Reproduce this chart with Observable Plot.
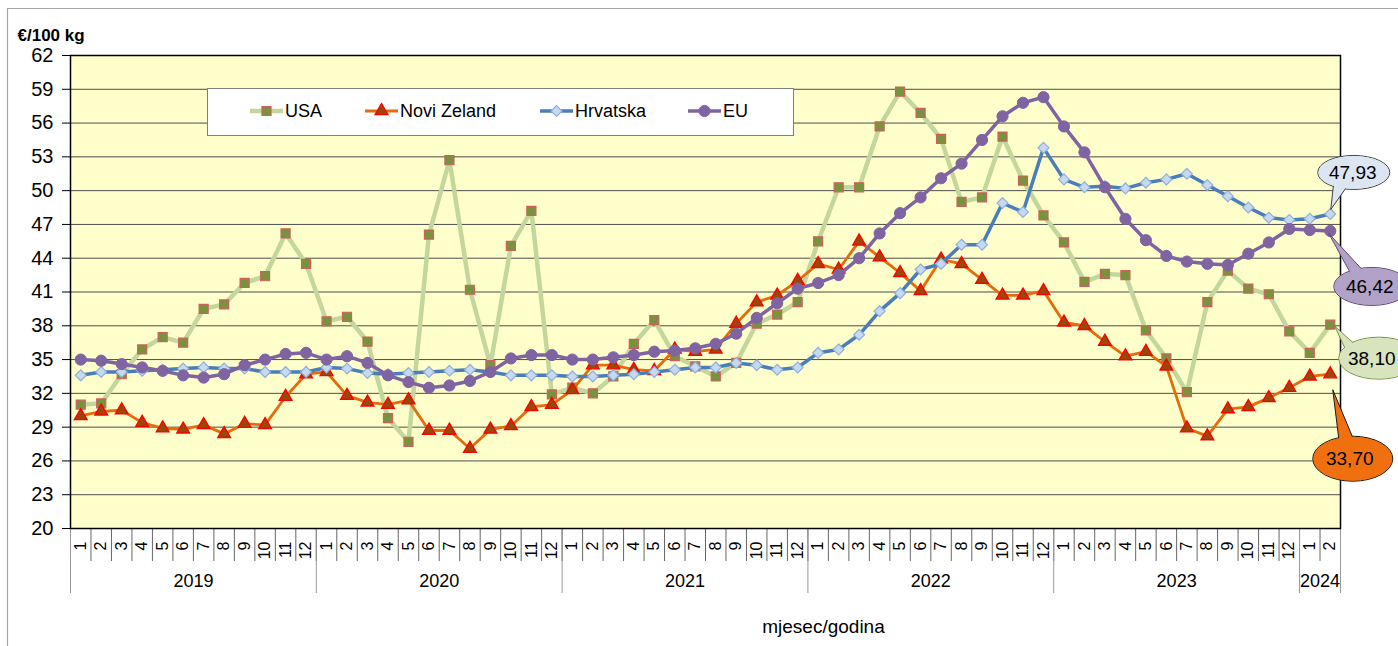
<!DOCTYPE html>
<html>
<head>
<meta charset="utf-8">
<script src="https://cdn.jsdelivr.net/npm/d3@7"></script>
<script src="https://cdn.jsdelivr.net/npm/@observablehq/plot@0.6"></script>
<style>
  html, body { margin: 0; padding: 0; background: #fff; }
  #chart svg { display: block; }
</style>
</head>
<body>
<div id="chart"></div>
<script>
// ---------- data ----------
const years = ["2019", "2020", "2021", "2022", "2023", "2024"];
const monthsPerYear = [12, 12, 12, 12, 12, 2];
const monthLabels = ["1","2","3","4","5","6","7","8","9","10","11","12"];
const yTicks = [20, 23, 26, 29, 32, 35, 38, 41, 44, 47, 50, 53, 56, 59, 62];

const seriesNames = ["USA", "Novi Zeland", "Hrvatska", "EU"];

const usa = [31.0,31.1,33.7,35.9,37.0,36.5,39.5,39.9,41.8,42.4,46.2,43.5,
  38.4,38.8,36.6,29.8,27.7,46.1,52.7,41.2,34.5,45.1,48.2,31.9,
  32.5,32.0,33.5,36.4,38.5,35.3,34.4,33.5,34.7,38.2,39.0,40.1,
  45.5,50.3,50.3,55.7,58.8,56.9,54.6,49.0,49.4,54.8,50.9,47.8,
  45.4,41.9,42.6,42.5,37.6,35.1,32.1,40.1,42.9,41.3,40.8,37.5,
  35.6,38.10];
const noviZeland = [30.0,30.4,30.5,29.4,28.9,28.8,29.2,28.4,29.3,29.2,31.7,33.7,
  33.9,31.8,31.2,31.0,31.4,28.7,28.7,27.1,28.8,29.1,30.8,31.0,
  32.3,34.5,34.5,34.1,34.0,35.9,35.7,35.9,38.2,40.1,40.7,42.0,
  43.5,43.0,45.5,44.1,42.7,41.1,43.9,43.5,42.1,40.7,40.7,41.1,
  38.3,38.0,36.6,35.3,35.7,34.4,28.9,28.2,30.6,30.8,31.6,32.5,
  33.5,33.70];
const hrvatska = [33.6,33.9,33.9,34.0,34.1,34.2,34.3,34.2,34.2,33.9,33.9,33.9,
  34.3,34.2,33.8,33.7,33.8,33.9,34.0,34.1,33.9,33.6,33.6,33.6,
  33.5,33.5,33.6,33.7,33.9,34.1,34.3,34.3,34.7,34.5,34.1,34.3,
  35.6,35.9,37.2,39.3,40.9,43.0,43.5,45.2,45.2,48.9,48.1,53.8,
  51.0,50.3,50.4,50.2,50.7,51.0,51.5,50.5,49.5,48.5,47.6,47.4,
  47.5,47.93];
const eu = [35.0,34.9,34.6,34.3,34.0,33.6,33.4,33.7,34.5,35.0,35.5,35.6,
  35.0,35.3,34.7,33.6,33.0,32.5,32.7,33.1,33.9,35.1,35.4,35.4,
  35.0,35.0,35.2,35.4,35.7,35.8,36.0,36.4,37.3,38.7,40.0,41.3,
  41.8,42.5,44.0,46.2,48.0,49.4,51.1,52.4,54.5,56.6,57.8,58.3,
  55.7,53.4,50.3,47.5,45.6,44.2,43.7,43.5,43.4,44.4,45.4,46.6,
  46.5,46.42];

// ---------- derived tables ----------
const periods = [];
const yearRows = [];
years.forEach((yr, k) => {
  const start = periods.length;
  for (let m = 0; m < monthsPerYear[k]; m++) periods.push({i: periods.length, month: monthLabels[m], year: yr});
  yearRows.push({year: yr, start: start - 0.5, end: periods.length - 0.5, center: (start + periods.length - 1) / 2});
});
const rows = periods.map((p, i) => ({...p, usa: usa[i], nz: noviZeland[i], hr: hrvatska[i], eu: eu[i]}));
const monthBounds = d3.range(periods.length + 1).map(i => i - 0.5);
const yearBounds = [yearRows[0].start, ...yearRows.map(d => d.end)];

// ---------- styles ----------
const diamondSym = {draw(ctx, size) { const r = Math.sqrt(size) * 0.62625; ctx.moveTo(0, -r); ctx.lineTo(r, 0); ctx.lineTo(0, r); ctx.lineTo(-r, 0); ctx.closePath(); }};
const styles = {
  usa: {line: "#C3D69B", lw: 4.5, symbol: "square", r: 5.1, fill: "#77933C", stroke: "#D0605D", sw: 1.2, d3sym: d3.symbolSquare},
  nz:  {line: "#E46C0A", lw: 2.8, symbol: "triangle", r: 4.7, fill: "#984807", stroke: "#FF0000", sw: 1.4, d3sym: d3.symbolTriangle},
  hr:  {line: "#4A7EBB", lw: 3.5, symbol: diamondSym, r: 4.9, fill: "#C6D9F1", stroke: "#8EB0DA", sw: 1.2, d3sym: diamondSym},
  eu:  {line: "#8064A2", lw: 3.5, symbol: "circle", r: 5.6, fill: "#8064A2", stroke: "#8064A2", sw: 1, d3sym: d3.symbolCircle}
};
const keys = ["usa", "nz", "hr", "eu"];

const callouts = [
  {key: "hr", fill: "#DCE6F2", stroke: "#404040", cx: 24, cy: -41, rx: 36, ry: 17, tip: [1, -4], base: [[4, -31], [18, -28]], tdx: -1},
  {key: "eu", fill: "#B3A2C7", stroke: "#5F497A", cx: 42, cy: 56, rx: 38, ry: 19, tip: [-1, 3], base: [[22, 45], [36, 43]], tdx: -2},
  {key: "usa", fill: "#D7E4BD", stroke: "#77933C", cx: 49, cy: 34, rx: 40, ry: 21, tip: [5, 2], base: [[17, 28], [26, 21]], tdx: -7},
  {key: "nz", fill: "#F07010", stroke: "#1a1a1a", cx: 23, cy: 85, rx: 40, ry: 22.5, tip: [3, 16], base: [[10, 73], [26, 71]], tdx: -3}
];

const fmt = v => d3.format(".2f")(v).replace(".", ",");

// ---------- custom marks ----------
function legendMark() {
  return () => {
    const g = d3.create("svg:g");
    g.append("rect").attr("x", 207.5).attr("y", 88.5).attr("width", 586).attr("height", 47)
      .attr("fill", "#fff").attr("stroke", "#7f7f7f");
    const items = [[250, "usa"], [365, "nz"], [540, "hr"], [688, "eu"]];
    items.forEach(([x0, k], j) => {
      const s = styles[k];
      g.append("line").attr("x1", x0).attr("x2", x0 + 33).attr("y1", 111).attr("y2", 111)
        .attr("stroke", s.line).attr("stroke-width", s.lw);
      g.append("path").attr("transform", `translate(${x0 + 16.5},111)`)
        .attr("d", d3.symbol(s.d3sym, s.r * s.r * Math.PI)())
        .attr("fill", s.fill).attr("stroke", s.stroke).attr("stroke-width", s.sw);
      g.append("text").attr("x", x0 + 35).attr("y", 111).attr("dy", "0.35em")
        .attr("text-anchor", "start").attr("font-size", 18).attr("fill", "#000").text(seriesNames[j]);
    });
    return g.node();
  };
}

function calloutMark() {
  return (index, {x, y}) => {
    const g = d3.create("svg:g");
    const last = rows.length - 1;
    callouts.forEach(c => {
      const px = x(rows[last].i), py = y(rows[last][c.key]);
      const ex = px + c.cx, ey = py + c.cy;
      const tail = `M${px + c.tip[0]},${py + c.tip[1]}L${px + c.base[0][0]},${py + c.base[0][1]}L${px + c.base[1][0]},${py + c.base[1][1]}Z`;
      g.append("ellipse").attr("cx", ex).attr("cy", ey).attr("rx", c.rx).attr("ry", c.ry)
        .attr("fill", c.fill).attr("stroke", c.stroke).attr("stroke-width", 1);
      g.append("path").attr("d", tail).attr("fill", c.fill).attr("stroke", c.stroke).attr("stroke-width", 1);
      g.append("ellipse").attr("cx", ex).attr("cy", ey).attr("rx", c.rx - 0.6).attr("ry", c.ry - 0.6)
        .attr("fill", c.fill);
      g.append("text").attr("x", ex + c.tdx).attr("y", ey).attr("dy", "0.35em").attr("text-anchor", "middle")
        .attr("font-size", 19).attr("fill", "#000").text(fmt(rows[last][c.key]));
    });
    return g.node();
  };
}

function borderMark() {
  return () => {
    const g = d3.create("svg:g");
    g.append("path").attr("d", "M7.5,646V8.5H1398").attr("fill", "none").attr("stroke", "#a6a6a6").attr("stroke-width", 1.2);
    return g.node();
  };
}

// ---------- plot ----------
const seriesMarks = keys.flatMap(k => {
  const s = styles[k];
  return [
    Plot.line(rows, {x: "i", y: k, stroke: s.line, strokeWidth: s.lw, strokeLinejoin: "round"}),
    Plot.dot(rows, {x: "i", y: k, symbol: s.symbol, r: s.r, fill: s.fill, stroke: s.stroke, strokeWidth: s.sw})
  ];
});

const chart = Plot.plot({
  width: 1398,
  height: 646,
  marginLeft: 70,
  marginRight: 58,
  marginTop: 55,
  marginBottom: 118,
  x: {type: "linear", domain: [-0.5, periods.length - 0.5], axis: null},
  y: {domain: [20, 62], axis: null},
  style: {fontFamily: "'Liberation Sans', Arial, sans-serif", fontSize: "16px", color: "#000", background: "#fff", overflow: "visible"},
  marks: [
    borderMark(),
    Plot.frame({fill: "#FFFFCC"}),
    Plot.ruleY(yTicks.slice(1, -1), {stroke: "#4d4d4d", strokeWidth: 1}),
    Plot.axisY(yTicks, {anchor: "left", tickSize: 8, tickPadding: 9, fontSize: 20, label: null}),
    Plot.axisX(monthBounds, {anchor: "bottom", tickSize: 33, tickFormat: () => "", stroke: "#666", label: null}),
    Plot.axisX(yearBounds, {anchor: "bottom", tickSize: 65, tickFormat: () => "", stroke: "#999", label: null}),
    Plot.text(periods, {x: "i", text: "month", frameAnchor: "bottom", rotate: -90, textAnchor: "end", lineAnchor: "middle", dy: 13, fontSize: 16, fill: "#000"}),
    Plot.text(yearRows, {x: "center", text: "year", frameAnchor: "bottom", dy: 58, fontSize: 18, fill: "#000"}),
    Plot.text(["mjesec/godina"], {frameAnchor: "bottom", dx: 118, dy: 104, fontSize: 19, fill: "#000"}),
    Plot.text(["€/100 kg"], {frameAnchor: "top-left", dx: -53, dy: -27, textAnchor: "start", fontWeight: "bold", fontSize: 17, fill: "#000"}),
    legendMark(),
    ...seriesMarks,
    Plot.frame({stroke: "#000", strokeWidth: 1.5}),
    calloutMark()
  ]
});
document.getElementById("chart").appendChild(chart);
</script>
</body>
</html>
